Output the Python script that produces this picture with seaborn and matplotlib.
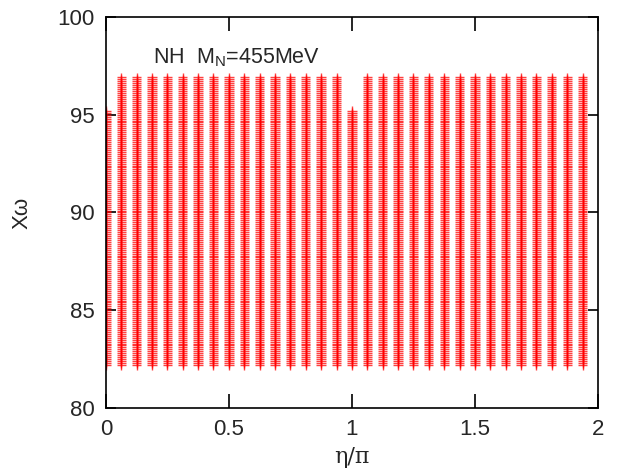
import numpy as np
import pandas as pd
import matplotlib
matplotlib.use("Agg")
import matplotlib.pyplot as plt
import seaborn as sns

# scan columns: eta/pi positions and the chi_omega range covered in each
eta_over_pi = [k / 16 for k in range(32)]
chi_low = [82.2] * 32
chi_high = [95.2] + [96.9] * 15 + [95.2] + [96.9] * 15
chi_step = 0.1

x_ticks = [0, 0.5, 1, 1.5, 2]
x_ticklabels = ["0", "0.5", "1", "1.5", "2"]
y_ticks = [80, 85, 90, 95, 100]
y_ticklabels = ["80", "85", "90", "95", "100"]

rows = []
for xv, lo, hi in zip(eta_over_pi, chi_low, chi_high):
    for yv in np.arange(lo, hi + 1e-9, chi_step):
        rows.append((xv, round(yv, 3)))
df = pd.DataFrame(rows, columns=["eta", "chi"])

sns.set_style("white")
plt.rcParams["font.family"] = ["Liberation Sans", "DejaVu Sans"]
plt.rcParams["mathtext.fontset"] = "custom"
plt.rcParams["mathtext.rm"] = "Liberation Sans"
plt.rcParams["mathtext.it"] = "Liberation Sans:italic"

fig = plt.figure(figsize=(6.19, 4.68), dpi=100)
ax = fig.add_axes([0.171, 0.128, 0.795, 0.836])

sns.scatterplot(data=df, x="eta", y="chi", marker="+", color="red",
                s=45, linewidth=1.0, ax=ax, legend=False, zorder=1)
for coll in ax.collections:
    coll.set_edgecolor("#ff0000")
    coll.set_facecolor("none")
    coll.set_linewidth(1.0)
    coll.set_alpha(0.75)
    coll.set_snap(True)

ax.set_xlim(0, 2)
ax.set_ylim(80, 100)
ax.set_xticks(x_ticks)
ax.set_xticklabels(x_ticklabels)
ax.set_yticks(y_ticks)
ax.set_yticklabels(y_ticklabels)
ax.tick_params(axis="x", direction="in", length=10, width=1.2, top=True,
               bottom=True, labelsize=16, pad=8, color="black")
ax.tick_params(axis="y", direction="in", length=7, width=1.2, left=True,
               right=True, labelsize=16, pad=8, color="black")
for sp in ax.spines.values():
    sp.set_visible(True)
    sp.set_color("black")
    sp.set_linewidth(1.2)
    sp.set_zorder(3)

ax.set_xlabel("η/π", fontsize=16, family=["DejaVu Serif"], labelpad=4)
ax.set_ylabel("Xω", fontsize=16, labelpad=18)
ax.text(0.095, 0.925, r"NH  M$_\mathrm{N}$=455MeV", transform=ax.transAxes,
        fontsize=15.5, ha="left", va="top")

fig.savefig("out.png", dpi=100)
